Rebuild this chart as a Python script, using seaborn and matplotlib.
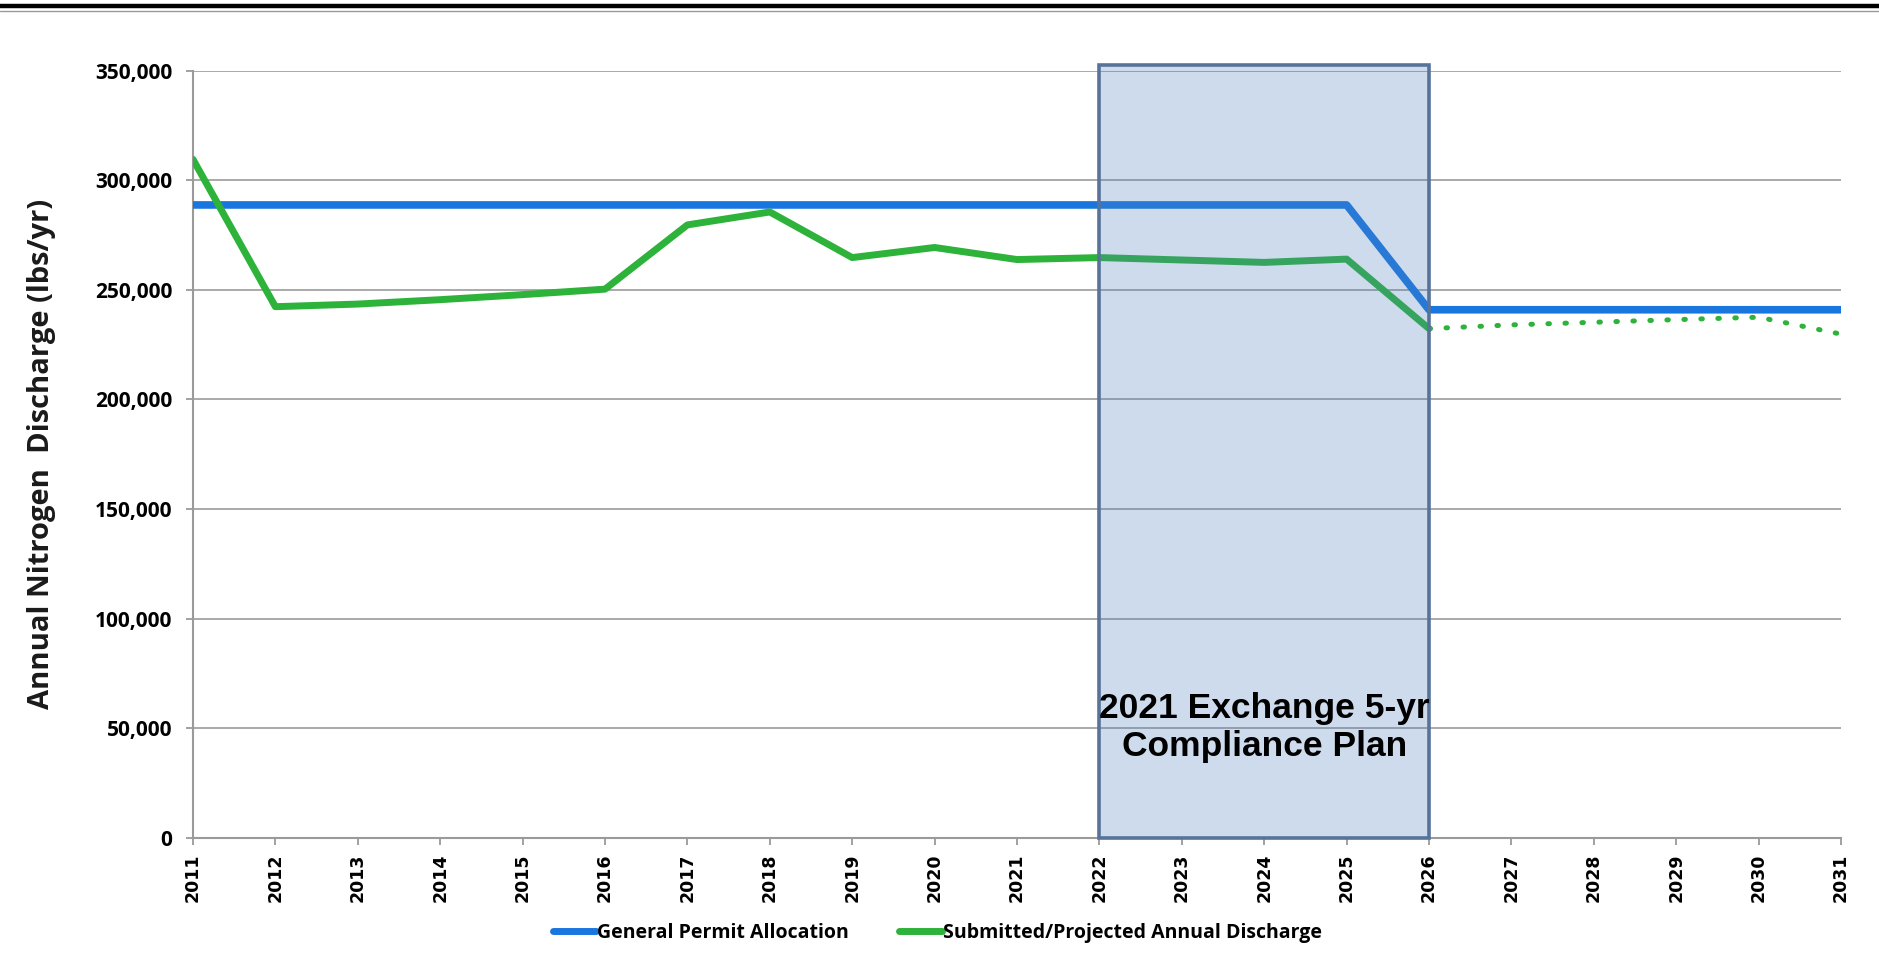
import numpy as np
import pandas as pd
import matplotlib
matplotlib.use("Agg")
import matplotlib.pyplot as plt
from matplotlib.lines import Line2D
from matplotlib.ticker import FuncFormatter
import seaborn as sns

# --- Data ---
years = list(range(2011, 2032))
allocation = [288700] * 15 + [240900] * 6          # 2011-2031
submitted_years = list(range(2011, 2027))
submitted = [309500, 242300, 243500, 245500, 247800, 250300, 279600, 285500,
             264700, 269300, 263800, 264700, 263600, 262500, 264000, 232300]
projected_years = list(range(2026, 2032))
projected = [232300, 234000, 235200, 236400, 237500, 229800]
y_ticks = list(range(0, 350001, 50000))
plan_start, plan_end = 2022, 2026
plan_label = "2021 Exchange 5-yr\nCompliance Plan"
plan_label_y = 50500

blue = "#1A76DF"
green = "#2DB23A"

sns.set_style("white")
plt.rcParams["font.family"] = ["Open Sans", "DejaVu Sans"]
plt.rcParams["text.color"] = "black"

fig = plt.figure(figsize=(18.79, 9.61), dpi=100)
ax = fig.add_axes([0.1027, 0.128, 0.8771, 0.7986])

alloc_df = pd.DataFrame({"year": years, "value": allocation})
sub_df = pd.DataFrame({"year": submitted_years, "value": submitted})
proj_df = pd.DataFrame({"year": projected_years, "value": projected})

sns.lineplot(data=alloc_df, x="year", y="value", ax=ax, color=blue, lw=5.5, zorder=3)
sns.lineplot(data=sub_df, x="year", y="value", ax=ax, color=green, lw=5, zorder=3)
sns.lineplot(data=proj_df, x="year", y="value", ax=ax, color=green, lw=3.6,
             linestyle=(0, (0.3, 3.1)), dash_capstyle="round", zorder=3)

# compliance plan box, drawn over the lines
ax.axvspan(plan_start, plan_end, ymin=0, ymax=1.007, clip_on=False,
           facecolor=(0.31, 0.506, 0.741, 0.28), edgecolor="#58739A", lw=2.6, zorder=4)
ax.text((plan_start + plan_end) / 2, plan_label_y, plan_label, ha="center", va="center",
        fontsize=25.5, fontweight="bold", family=["Liberation Sans", "DejaVu Sans"],
        color="black", linespacing=1.2, zorder=5)

ax.set_xlim(years[0], years[-1])
ax.set_ylim(y_ticks[0], y_ticks[-1])
ax.set_xticks(years)
ax.set_yticks(y_ticks)
ax.yaxis.set_major_formatter(FuncFormatter(lambda v, p: f"{int(v):,}"))
ax.grid(axis="y", color="#A3A3A3", lw=1.3)
ax.set_axisbelow(True)

for s in ["top", "right"]:
    ax.spines[s].set_visible(False)
for s in ["left", "bottom"]:
    ax.spines[s].set_color("#9A9A9A")
    ax.spines[s].set_linewidth(1.5)

ax.tick_params(axis="both", direction="out", length=5, width=1.3, color="#9A9A9A",
               left=True, bottom=True, labelcolor="black")
ax.tick_params(axis="y", pad=10)
ax.tick_params(axis="x", pad=6)
for lab in ax.get_yticklabels():
    lab.set_fontsize(15)
    lab.set_fontweight("bold")
for lab in ax.get_xticklabels():
    lab.set_fontsize(12.5)
    lab.set_fontweight("bold")
    lab.set_rotation(90)
    lab.set_family(["DejaVu Sans"])

ax.set_xlabel("")
ax.set_ylabel("Annual Nitrogen  Discharge (lbs/yr)", fontsize=21, fontweight="bold",
              color="#1A1A1A", labelpad=28)

handles = [Line2D([], [], color=blue, lw=5),
           Line2D([], [], color=green, lw=5)]
fig.legend(handles, ["General Permit Allocation", "Submitted/Projected Annual Discharge"],
           loc="center", bbox_to_anchor=(0.499, 0.029), ncol=2, frameon=False,
           prop={"size": 14, "weight": "bold"}, handlelength=2.2, handletextpad=0.05,
           columnspacing=2.6)

# dark border line across the top
fig.add_artist(Line2D([0, 1], [0.9935, 0.9935], transform=fig.transFigure,
                      color="black", lw=3.2))
fig.add_artist(Line2D([0, 1], [0.989, 0.989], transform=fig.transFigure,
                      color="#9A9A9A", lw=1))

fig.savefig("out.png", dpi=100)
